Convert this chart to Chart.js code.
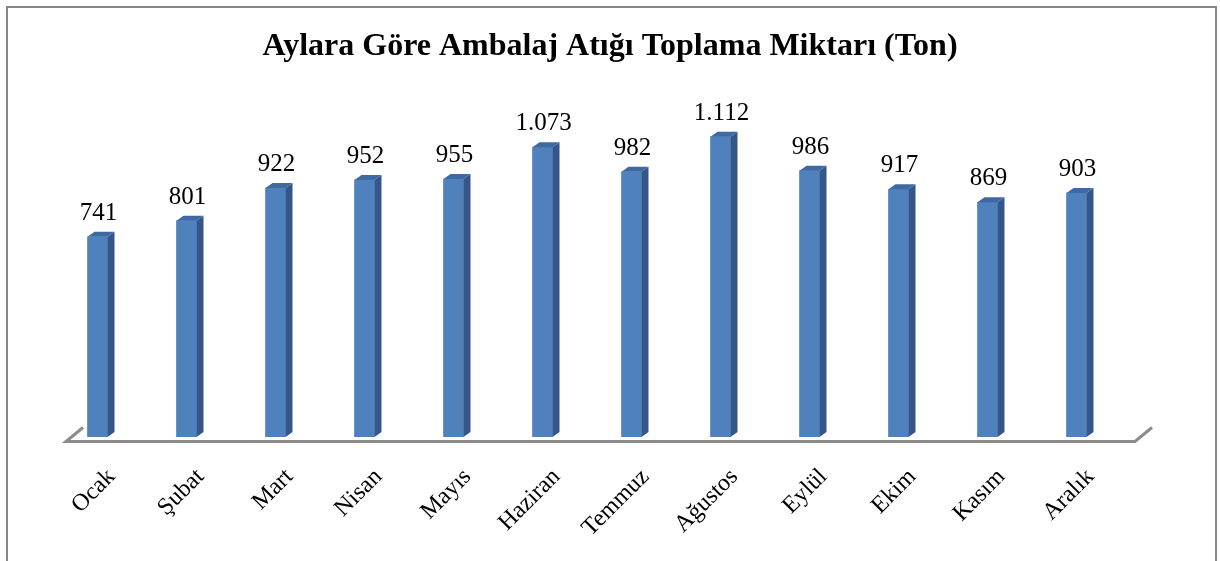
<!DOCTYPE html>
<html><head><meta charset="utf-8">
<script src="https://cdn.jsdelivr.net/npm/chart.js@4/dist/chart.umd.min.js"></script>
<style>html,body{margin:0;padding:0;background:#fff;}#wrap{width:1220px;height:561px;}</style>
</head><body><div id="wrap"><canvas id="c" width="1220" height="561"></canvas></div>
<script>
const months = ["Ocak","Şubat","Mart","Nisan","Mayıs","Haziran","Temmuz","Ağustos","Eylül","Ekim","Kasım","Aralık"];
const tons = [741, 801, 922, 952, 955, 1073, 982, 1112, 986, 917, 869, 903];
const valueLabels = ["741","801","922","952","955","1.073","982","1.112","986","917","869","903"];
const chartTitle = "Aylara Göre Ambalaj Atığı Toplama Miktarı (Ton)";

const SERIF = "'Liberation Serif','Times New Roman',serif";
const DX = 7, DY = 5;

const frame = {
  id: 'frame',
  beforeDraw(chart) {
    const ctx = chart.ctx;
    ctx.save();
    ctx.fillStyle = '#fff';
    ctx.fillRect(0, 0, chart.width, chart.height);
    ctx.strokeStyle = '#878787';
    ctx.lineWidth = 2;
    ctx.beginPath();
    ctx.moveTo(7, 600); ctx.lineTo(7, 7); ctx.lineTo(1216, 7); ctx.lineTo(1216, 600);
    ctx.stroke();
    ctx.restore();
  }
};

const floor = {
  id: 'floor',
  beforeDatasetsDraw(chart) {
    const a = chart.chartArea, ctx = chart.ctx;
    const y = a.bottom + 4.5;
    ctx.save();
    ctx.strokeStyle = '#8c8c8c';
    ctx.lineWidth = 3;
    ctx.beginPath();
    ctx.moveTo(a.left + 30, y - 14);
    ctx.lineTo(a.left + 13, y);
    ctx.lineTo(a.right + 14, y);
    ctx.lineTo(a.right + 31, y - 14);
    ctx.stroke();
    ctx.restore();
  }
};

const bars3d = {
  id: 'bars3d',
  afterDatasetsDraw(chart) {
    const ctx = chart.ctx;
    const meta = chart.getDatasetMeta(0);
    ctx.save();
    meta.data.forEach((bar, i) => {
      const p = bar.getProps(['x','y','base','width'], true);
      const l = p.x - p.width/2, r = p.x + p.width/2;
      ctx.fillStyle = '#34568a';
      ctx.beginPath();
      ctx.moveTo(r, p.y); ctx.lineTo(r + DX, p.y - DY); ctx.lineTo(r + DX, p.base - DY); ctx.lineTo(r, p.base);
      ctx.closePath(); ctx.fill();
      ctx.fillStyle = '#3e6aa3';
      ctx.beginPath();
      ctx.moveTo(l, p.y); ctx.lineTo(l + DX, p.y - DY); ctx.lineTo(r + DX, p.y - DY); ctx.lineTo(r, p.y);
      ctx.closePath(); ctx.fill();
      ctx.fillStyle = '#000';
      ctx.font = '25px ' + SERIF;
      ctx.textAlign = 'center';
      ctx.textBaseline = 'alphabetic';
      ctx.fillText(valueLabels[i], p.x + 1, p.y - 17);
    });
    ctx.restore();
  }
};

new Chart(document.getElementById('c'), {
  type: 'bar',
  data: {
    labels: months,
    datasets: [{
      data: tons,
      backgroundColor: '#4f81bd',
      borderWidth: 0,
      barThickness: 20
    }]
  },
  options: {
    responsive: false,
    animation: false,
    devicePixelRatio: 1,
    layout: { padding: 0 },
    plugins: {
      legend: { display: false },
      tooltip: { enabled: false },
      title: {
        display: true,
        text: chartTitle,
        color: '#000',
        font: { family: SERIF, size: 32, weight: 'bold' },
        padding: { top: 28, bottom: 33 }
      }
    },
    scales: {
      x: {
        grid: { display: false, drawTicks: false },
        border: { display: false },
        ticks: {
          color: '#000',
          font: { family: SERIF, size: 24 },
          minRotation: 45, maxRotation: 45,
          padding: 26,
          labelOffset: 14,
          autoSkip: false
        },
        afterFit(s) { s.height = 124; }
      },
      y: {
        position: 'left',
        min: 0, max: 1250,
        grid: { display: false, drawTicks: false },
        border: { display: false },
        ticks: { display: false },
        afterFit(s) { s.width = 53; }
      },
      yR: {
        position: 'right',
        min: 0, max: 1250,
        grid: { display: false, drawTicks: false },
        border: { display: false },
        ticks: { display: false },
        afterFit(s) { s.width = 99; }
      }
    }
  },
  plugins: [frame, floor, bars3d]
});
</script>
</body></html>
